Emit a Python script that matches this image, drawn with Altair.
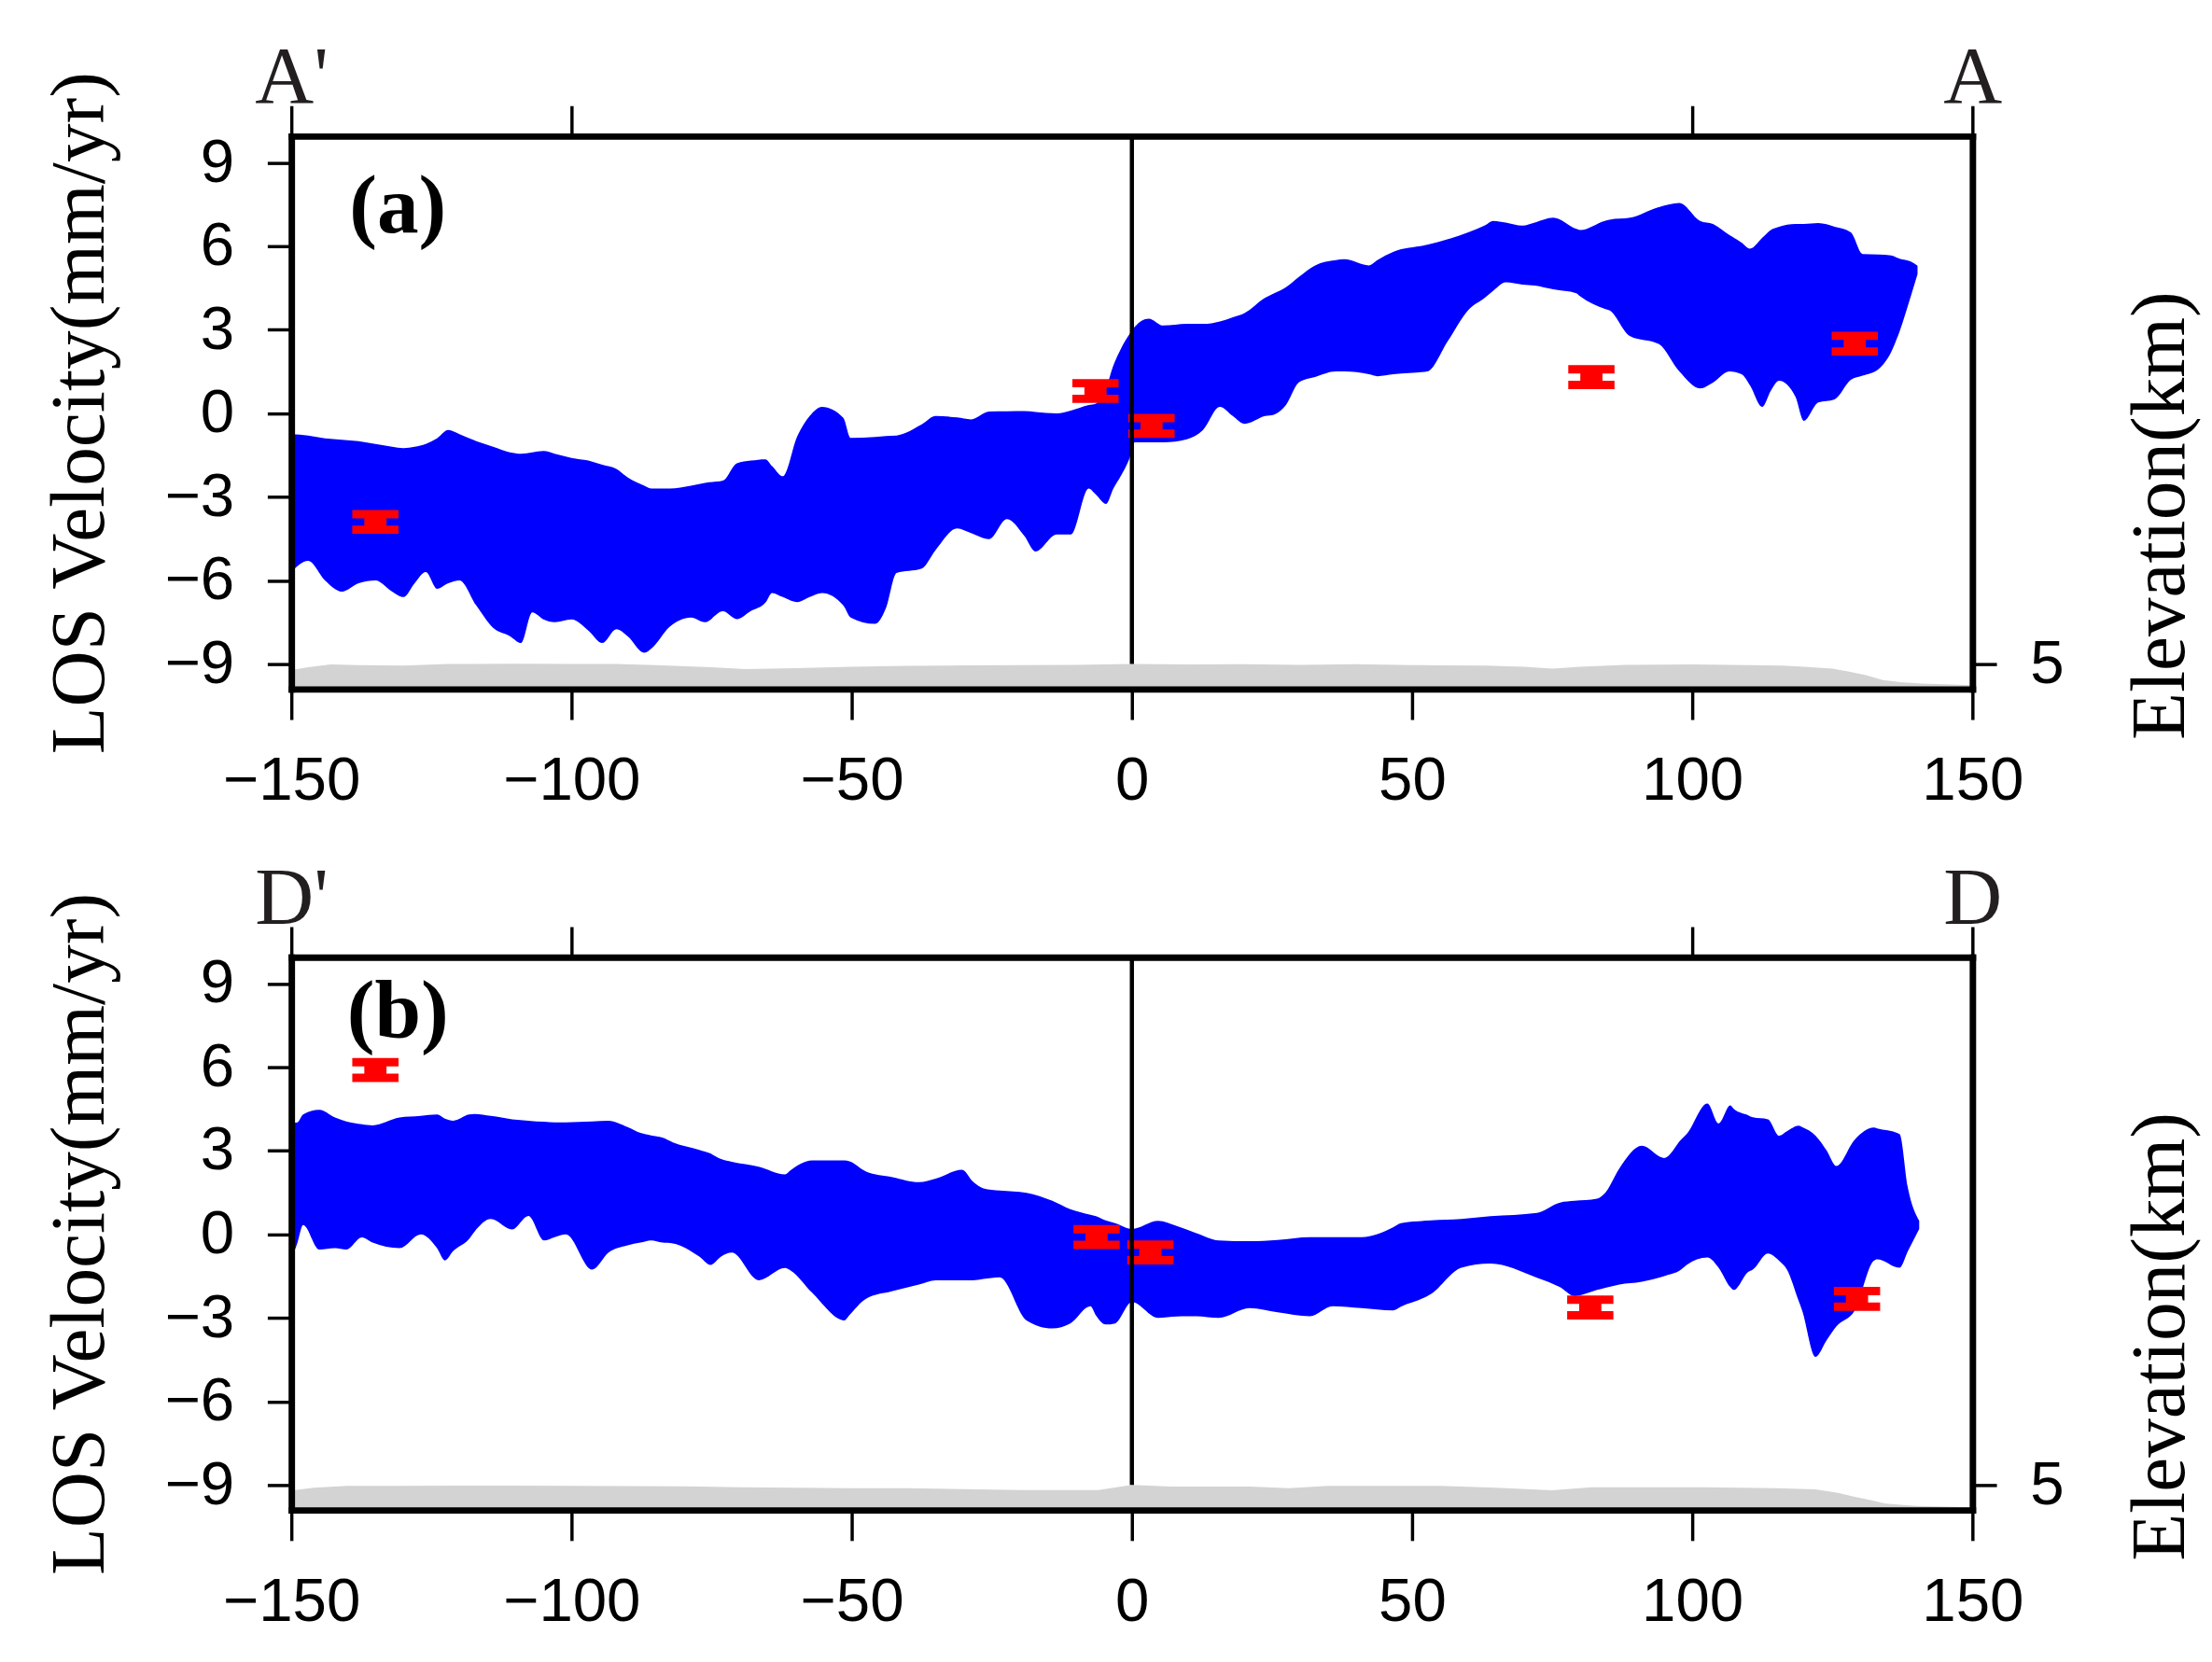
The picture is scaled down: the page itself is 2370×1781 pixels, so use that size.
import altair as alt
import pandas as pd

# ---------------- Panel (a): profile A'-A ----------------
A_DIST = [-150, -147, -144, -141, -138, -135, -132, -130, -128, -126, -124, -122, -120, -117, -114, -111,
          -109, -107, -105, -103, -100, -97, -94.5, -92, -90, -87, -85.7, -82.5, -78.7, -76.2, -73, -70.5,
          -68, -65.4, -64.2, -62.3, -59.7, -57.5, -55.3, -51.5, -50.2, -45.8, -43.9, -42, -37.5, -35,
          -31.2, -28.7, -25.5, -22.3, -19.2, -17.2, -13.4, -10.9, -7.7, -6.5, -4.6, -3.3, -2, -0.4,
          0.5, 3, 5.6, 9.8, 12.7, 15.7, 18, 20.1, 23.8, 25.3, 27.5, 29.8, 32.7, 36.4, 37.9, 42.3, 43.8,
          46.7, 52.7, 56.4, 60, 63, 64.5, 66.7, 69.7, 71.9, 75.2, 79.3, 80, 84.4, 85.2, 88.9, 94, 97.7,
          101.4, 103.7, 106.6, 108.8, 110.3, 112.5, 114, 115.5, 118.4, 119.9, 122.5, 125.4, 128.3, 130.4,
          133.3, 135.5, 137, 139, 140.2]
A_UPPER = [-0.75, -0.8, -0.9, -0.95, -1.0, -1.1, -1.2, -1.25, -1.2, -1.1, -0.9, -0.6, -0.75, -1.0, -1.2, -1.4,
           -1.45, -1.4, -1.35, -1.45, -1.6, -1.7, -1.85, -2.0, -2.3, -2.6, -2.7, -2.7, -2.6, -2.5, -2.42, -1.8,
           -1.7, -1.65, -1.9, -2.26, -0.82, -0.1, 0.23, -0.16, -0.88, -0.85, -0.82, -0.8, -0.4, -0.1,
           -0.15, -0.22, 0.06, 0.07, 0.08, 0.05, 0.0, 0.1, 0.3, 0.34, 0.9, 1.72, 2.3, 2.85,
           3.1, 3.4, 3.15, 3.21, 3.21, 3.3, 3.45, 3.6, 4.15, 4.3, 4.53, 4.9, 5.31, 5.5, 5.53, 5.31, 5.5,
           5.8, 6.05, 6.25, 6.5, 6.75, 6.91, 6.85, 6.74, 6.85, 7.02, 6.62, 6.58, 6.91, 6.95, 7.02, 7.4, 7.55,
           6.91, 6.8, 6.4, 6.13, 5.91, 6.3, 6.58, 6.7, 6.8, 6.8, 6.83, 6.7, 6.5, 5.72,
           5.7, 5.67, 5.55, 5.45, 5.3]
A_LOWER = [-5.7, -5.3, -6.0, -6.4, -6.1, -6.0, -6.4, -6.6, -6.1, -5.7, -6.3, -6.1, -6.0, -6.9, -7.7, -8.0,
           -8.25, -7.15, -7.4, -7.5, -7.4, -7.8, -8.25, -7.75, -8.0, -8.6, -8.44, -7.67, -7.33, -7.5, -7.11, -7.39,
           -7.1, -6.8, -6.45, -6.6, -6.78, -6.6, -6.45, -6.9, -7.33, -7.56, -7.0, -5.73, -5.57, -4.9,
           -4.13, -4.3, -4.52, -3.8, -4.4, -4.96, -4.35, -4.35, -2.7, -2.9, -3.25, -2.7, -2.26, -1.6,
           -1.04, -1.04, -1.04, -0.93, -0.6, 0.23, -0.1, -0.38, -0.1, -0.05, 0.3, 1.11, 1.3, 1.5, 1.5, 1.4, 1.33,
           1.4, 1.5, 2.6, 3.7, 4.15, 4.4, 4.7, 4.62, 4.59, 4.45, 4.31, 4.2, 3.75, 3.7, 2.77, 2.49, 1.5,
           0.89, 1.1, 1.5, 1.4, 1.0, 0.23, 0.8, 1.17, 0.6, -0.27, 0.39, 0.5, 1.2, 1.35,
           1.6, 2.2, 2.94, 4.2, 5.0]
A_TOPO_DIST = [-150, -147, -143, -138, -130, -122, -110, -100, -92, -85, -75, -69, -60, -50, -40, -30, -20,
               -10, 0, 10, 20, 30, 40, 50, 55, 63, 70, 75, 80, 88, 100, 110, 116, 120, 125, 128, 131, 134,
               137, 141, 145, 150]
A_TOPO_ELEV = [4.78, 4.88, 4.98, 4.96, 4.94, 5.0, 5.01, 5.0, 5.0, 4.96, 4.88, 4.82, 4.85, 4.9, 4.93, 4.95, 4.96,
               4.97, 5.0, 4.98, 4.99, 4.97, 4.99, 4.96, 4.95, 4.94, 4.9, 4.83, 4.9, 4.97, 4.98, 4.96, 4.94, 4.9,
               4.83, 4.72, 4.6, 4.42, 4.35, 4.3, 4.27, 4.24]
A_GPS_DIST = [-135, -6.5, 3.5, 82, 129]
A_GPS_VEL = [-3.9, 0.8, -0.45, 1.3, 2.5]
A_GPS_SIG = [0.28, 0.28, 0.28, 0.28, 0.28]

# ---------------- Panel (b): profile D'-D ----------------
B_DIST = [-150, -148.9, -147.9, -145, -142.2, -140.2, -137.4, -135.5, -130.7, -126.9, -124, -122.6, -121.1,
          -118.3, -117.3, -114.4, -110.6, -107.7, -104.9, -103, -101, -96.3, -93.4, -90, -87.7, -85.8, -83.8,
          -81.9, -77.2, -75.2, -73.3, -71.4, -66.6, -61.9, -60.9, -57.1, -51.3, -50.4, -47.5, -42.7, -38, -35,
          -30.3, -28.4, -26.5, -23.6, -18.8, -14.2, -11, -7.4, -6.4, -4.7, -3, 0, 4.7, 8, 11.5, 15.5, 21, 26,
          31.8, 35.8, 41, 46.6, 48, 53.4, 58.8, 64, 72.3, 76.4, 79, 83, 84.5, 87, 91, 95, 98, 99, 102.7, 104.7,
          106.8, 107.4, 110, 110.8, 113.5, 115.5, 116.9, 119, 119.6, 122, 124, 125.7, 129, 132.4, 133, 137,
          138.5, 140.5]
B_UPPER = [4.0, 4.02, 4.3, 4.47, 4.19, 4.05, 3.95, 3.91, 4.19, 4.25, 4.3, 4.15, 4.08,
           4.3, 4.32, 4.25, 4.13, 4.08, 4.04, 4.02, 4.02, 4.05, 4.08, 3.85, 3.64, 3.55, 3.47,
           3.3, 3.03, 2.9, 2.7, 2.6, 2.43, 2.15, 2.3, 2.65, 2.65, 2.62, 2.26, 2.05, 1.87, 2.0,
           2.32, 1.9, 1.65, 1.57, 1.49, 1.2, 0.9, 0.7, 0.65, 0.5, 0.4, 0.19, 0.48, 0.3, 0.04, -0.22, -0.25, -0.2,
           -0.1, -0.1, -0.1, 0.25, 0.4, 0.5, 0.55, 0.65, 0.77, 1.14, 1.2, 1.28, 1.5, 2.37, 3.18, 2.74, 3.4, 3.6,
           4.7, 3.98, 4.63, 4.5, 4.27, 4.2, 4.13, 3.54, 3.7, 3.9, 3.85, 3.54, 3.0, 2.45, 3.4, 3.83, 3.8, 3.6,
           1.65, 0.48]
B_LOWER = [-0.9, -0.3, 0.33, -0.55, -0.5, -0.55, -0.11, -0.3, -0.5, 0.0, -0.5, -0.94, -0.6,
           -0.17, 0.1, 0.55, 0.17, 0.66, -0.22, -0.1, 0.0, -1.27, -0.66, -0.4, -0.3, -0.22, -0.3,
           -0.33, -0.8, -1.1, -0.8, -0.66, -1.65, -1.21, -1.3, -2.09, -3.09, -2.9, -2.32, -2.04, -1.8, -1.65,
           -1.65, -1.65, -1.6, -1.54, -3.09, -3.38, -3.2, -2.58, -2.92, -3.24, -3.2, -2.43, -3.0, -2.95, -2.94,
           -3.0, -2.65, -2.8,
           -2.94, -2.58, -2.65, -2.73, -2.6, -2.14, -1.2, -1.05, -1.56, -1.9, -2.22, -2.0, -1.92, -1.8, -1.7,
           -1.5, -1.27, -1.1, -0.83, -1.2,
           -1.9, -2.0, -1.35, -1.27, -0.69, -0.95, -1.27, -2.4, -2.73, -4.4, -3.8, -3.31, -2.73, -0.95, -0.9,
           -1.2, -0.6, 0.19]
B_TOPO_DIST = [-150, -146, -140, -130, -120, -110, -100, -90, -80, -70, -60, -50, -40, -30, -20, -6, 0, 7,
               21, 28, 35, 55, 65, 75, 82, 102, 115, 122, 126, 129, 132, 134.5, 140, 150]
B_TOPO_ELEV = [4.8, 4.9, 4.97, 4.97, 4.98, 4.98, 4.97, 4.96, 4.95, 4.92, 4.9, 4.88, 4.88, 4.85, 4.82, 4.82,
               5.0, 4.94, 4.94, 4.88, 4.97, 4.97, 4.9, 4.81, 4.92, 4.92, 4.88, 4.84, 4.72, 4.57, 4.45, 4.33,
               4.25, 4.2]
B_GPS_DIST = [-135, -6.3, 3.3, 81.8, 129.4]
B_GPS_VEL = [5.9, -0.1, -0.65, -2.63, -2.32]
B_GPS_SIG = [0.28, 0.28, 0.28, 0.28, 0.28]

VEL_TICKS = [-9, -6, -3, 0, 3, 6, 9]
DIST_TICKS = [-150, -100, -50, 0, 50, 100, 150]
TOP_TICKS = [-150, -100, 100, 150]
ELEV_TICKS = [5]

VEL_DOMAIN = [-9.9, 9.95]
ELEV_DOMAIN = [4.1, 23.95]
DIST_DOMAIN = [-150, 150]

W, H = 1818, 598
SERIF = "Liberation Serif"
SANS = "Liberation Sans"


def common_axis(**kw):
    base = dict(domainColor="black", domainWidth=7, domainCap="square", tickColor="black",
                tickWidth=3.5, tickCap="butt", labelColor="black", labelFont=SANS, labelFontSize=66,
                grid=False, zindex=1, labelOverlap=False, labelFlush=False)
    base.update(kw)
    return alt.Axis(**base)


def panel(dist, upper, lower, tdist, telev, gdist, gvel, gsig, tag, tag_vel, left_lab, right_lab):
    band = pd.DataFrame({"dist": dist, "upper": upper, "lower": lower})
    topo = pd.DataFrame({"dist": tdist, "elev": telev})
    gps = pd.DataFrame({"dist": gdist, "vel": gvel, "sig": gsig})
    gps["lo"] = gps["vel"] - gps["sig"]
    gps["hi"] = gps["vel"] + gps["sig"]
    zero = pd.DataFrame({"dist": [0], "y0": [VEL_TICKS[0]], "y1": [VEL_DOMAIN[1]]})
    lab = pd.DataFrame({"dist": [-131], "vel": [tag_vel], "tag": [tag]})

    xs = alt.Scale(domain=DIST_DOMAIN, nice=False, zero=False)
    vs = alt.Scale(domain=VEL_DOMAIN, nice=False, zero=False)
    es = alt.Scale(domain=ELEV_DOMAIN, nice=False, zero=False)

    topo_layer = alt.Chart(topo).mark_area(color="#d3d3d3", opacity=1).encode(
        x=alt.X("dist:Q", scale=xs, axis=None),
        y=alt.Y("elev:Q", scale=es, axis=common_axis(
            orient="right", values=ELEV_TICKS, tickSize=26, labelPadding=36,
            title="Elevation(km)", titleFont=SERIF, titleFontSize=84, titleFontWeight="normal",
            titleColor="black", titleAngle=270, titleBaseline="top", titlePadding=64, titleY=410)),
        y2=alt.datum(ELEV_DOMAIN[0]),
    )

    band_layer = alt.Chart(band).mark_area(color="#0000ff", opacity=1, interpolate="monotone").encode(
        x=alt.X("dist:Q", scale=xs, axis=common_axis(
            orient="bottom", values=DIST_TICKS, tickSize=33, labelPadding=34, title=None)),
        y=alt.Y("upper:Q", scale=vs, axis=common_axis(
            orient="left", values=VEL_TICKS, tickSize=26, labelPadding=36,
            title="LOS Velocity(mm/yr)", titleFont=SERIF, titleFontSize=84, titleFontWeight="normal",
            titleColor="black", titlePadding=48)),
        y2="lower:Q",
    )

    stem = alt.Chart(gps).mark_rule(color="#ff0000", opacity=1, strokeWidth=24).encode(
        x=alt.X("dist:Q", scale=xs, axis=None),
        y=alt.Y("lo:Q", scale=vs, axis=None),
        y2="hi:Q",
    )
    cap_lo = alt.Chart(gps).mark_tick(color="#ff0000", opacity=1, orient="horizontal", size=50,
                                      thickness=9).encode(
        x=alt.X("dist:Q", scale=xs, axis=None),
        y=alt.Y("lo:Q", scale=vs, axis=None),
    )
    cap_hi = alt.Chart(gps).mark_tick(color="#ff0000", opacity=1, orient="horizontal", size=50,
                                      thickness=9).encode(
        x=alt.X("dist:Q", scale=xs, axis=None),
        y=alt.Y("hi:Q", scale=vs, axis=None),
    )

    label_expr = ("datum.value == %d ? \"%s\" : (datum.value == %d ? \"%s\" : '')"
                  % (DIST_DOMAIN[0], left_lab, DIST_DOMAIN[1], right_lab))
    zline = alt.Chart(zero).mark_rule(color="black", strokeWidth=4.5).encode(
        x=alt.X("dist:Q", scale=xs, axis=common_axis(
            orient="top", values=TOP_TICKS, tickSize=33, labelPadding=4, title=None,
            labelExpr=label_expr, labelFont=SERIF, labelFontSize=88, labelColor="#231f20",
            labelBaseline="alphabetic")),
        y=alt.Y("y0:Q", scale=vs, axis=None),
        y2="y1:Q",
    )

    tag_layer = alt.Chart(lab).mark_text(font=SERIF, fontWeight="bold", fontSize=90, align="center",
                                         baseline="middle", color="black").encode(
        x=alt.X("dist:Q", scale=xs, axis=None),
        y=alt.Y("vel:Q", scale=vs, axis=None),
        text="tag:N",
    )

    return alt.layer(topo_layer, band_layer, stem, cap_lo, cap_hi, zline, tag_layer).resolve_scale(
        y="independent").resolve_axis(x="independent", y="independent").properties(width=W, height=H)


pa = panel(A_DIST, A_UPPER, A_LOWER, A_TOPO_DIST, A_TOPO_ELEV, A_GPS_DIST, A_GPS_VEL, A_GPS_SIG,
           "(a)", 7.4, "A'", "A")
pb = panel(B_DIST, B_UPPER, B_LOWER, B_TOPO_DIST, B_TOPO_ELEV, B_GPS_DIST, B_GPS_VEL, B_GPS_SIG,
           "(b)", 7.95, "D'", "D")

chart = alt.vconcat(pa, pb, spacing=290, bounds="flush").configure_view(stroke=None).properties(
    padding={"left": 36, "top": 24, "right": 5, "bottom": 5})

chart.save("out.html", embed_options={"renderer": "svg", "actions": False})
